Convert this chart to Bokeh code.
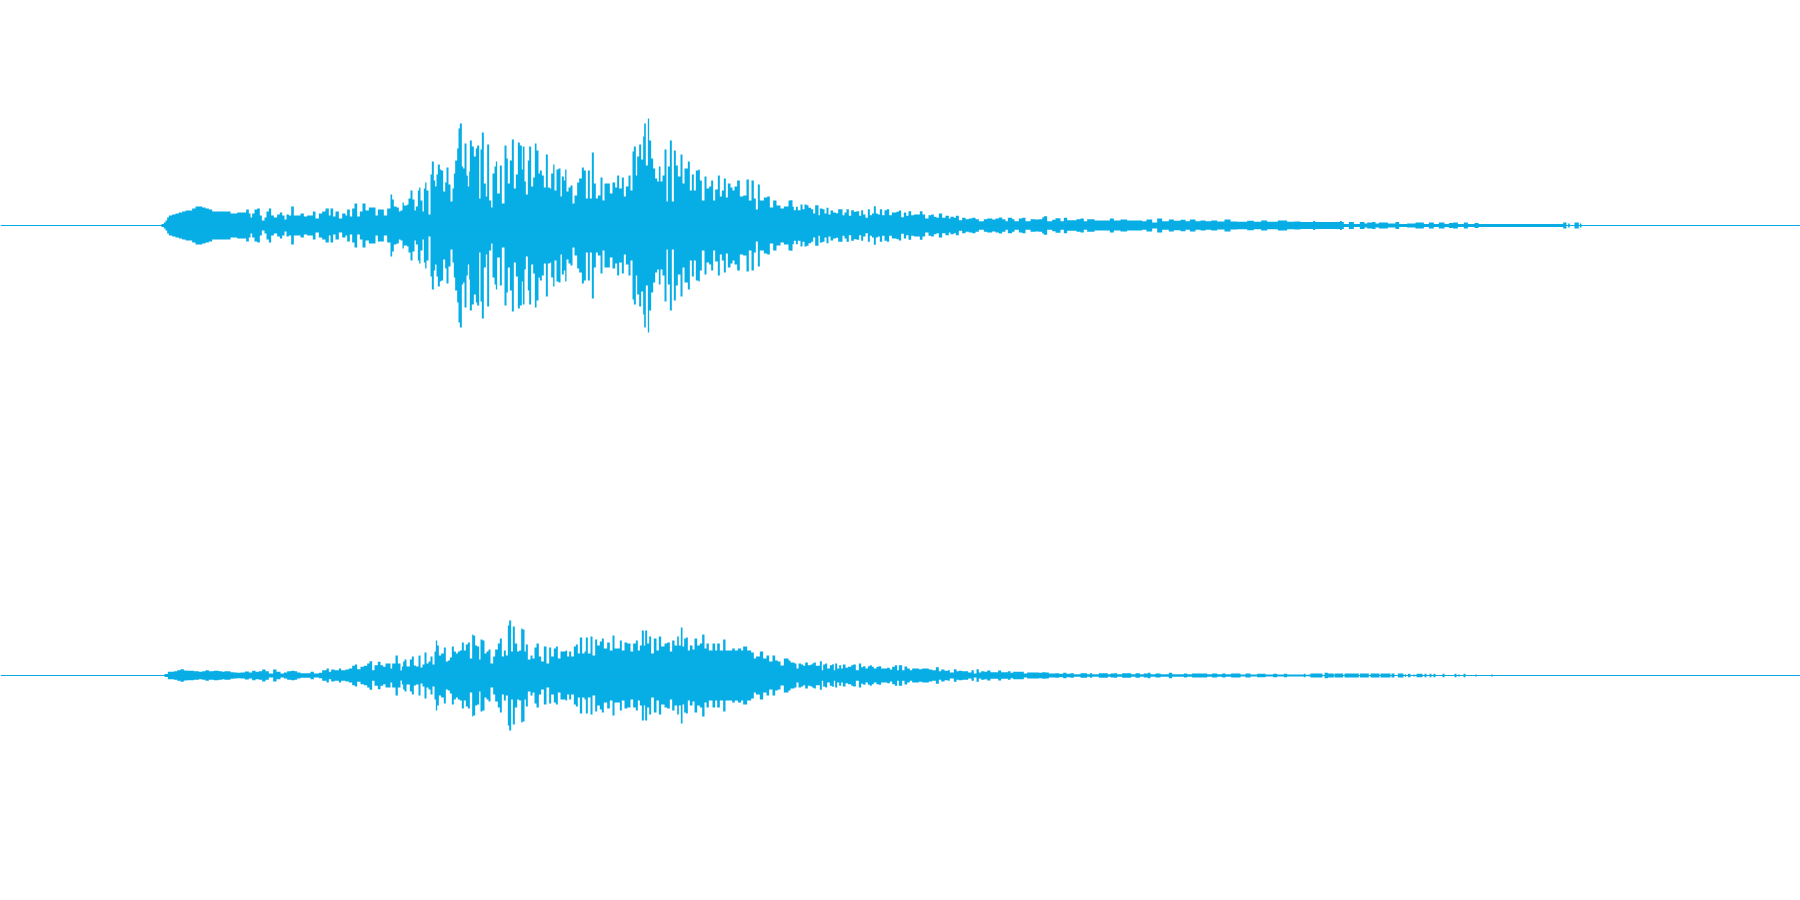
from bokeh.plotting import figure
from bokeh.layouts import column
from bokeh.embed import file_html
from bokeh.resources import INLINE

WAVE = "#07AEE6"
ZERO = "#0AAAE0"

# (tick, amplitude) pairs; a tick is a third of a column, each list has its own start column.
TOP_ONSET_START = 100
TOP_ONSET = [(183,1.5),(190,3),(195,5),(200,8),(205,10),(215,11),(225,12),(235,13),(245,14),(255,15),(265,15),(275,17),(285,19),(295,19),(305,18),(315,17),(325,16),(335,14),(380,14),(390,12),(400,12),(410,13),(420,13),(430,13),(437,16),(445,12),(450,8),(455,12),(462,16),(470,17),(478,10),(484,5),(492,8),(498,14),(505,17),(512,10),(520,8),(530,11),(538,13),(545,10),(552,6),(558,11),(565,10),(572,19),(580,10),(588,10),(600,12),(610,9),(620,10),(630,10),(637,14),(645,7),(655,12),(665,14),(675,17),(685,10),(690,17),(698,9),(705,14),(715,7),(725,12),(735,10),(740,16),(748,9),(755,17),(762,22),(770,9),(778,14),(786,22),(795,15),(805,18),(815,18),(825,10),(832,16),(840,16),(850,10),(860,17),(870,31),(875,26),(880,19),(888,18),(895,14)]
TOP_SPIKES_START = 400
TOP_SPIKES = [(0,15),(6,23),(10,20),(20,21),(24,27),(30,35),(36,26),(42,15),(46,19),(52,35),(56,38),(60,25),(66,14),(70,37),(74,43),(78,35),(84,11),(90,51),(94,64),(100,45),(104,39),(108,51),(112,61),(118,56),(122,55),(128,34),(134,43),(138,58),(144,41),(150,24),(156,37),(160,52),(164,65),(170,77),(174,97),(178,102),(184,59),(188,57),(192,82),(198,50),(202,39),(206,54),(208,85),(214,79),(220,69),(226,77),(230,80),(236,27),(240,76),(244,93),(250,42),(256,29),(260,81),(266,25),(272,18),(276,52),(282,59),(286,64),(290,32),(298,60),(304,22),(312,80),(318,67),(322,42),(328,65),(334,86),(340,37),(346,51),(352,83),(358,80),(364,56),(367,79),(372,44),(376,31),(382,65),(386,79),(392,39),(398,48),(403,82),(408,75),(414,52),(418,55),(424,50),(430,38),(436,71),(442,38),(448,37),(452,52),(458,61),(462,35),(468,56),(474,57),(480,29),(484,49),(490,45),(494,56),(498,34),(504,38),(510,40),(516,22),(522,30),(530,43),(536,47),(544,58),(550,55),(556,27),(562,55),(568,27),(574,73),(580,42),(586,27),(592,30),(600,48),(606,25),(612,42),(620,42),(628,32),(636,43),(644,38),(650,50),(656,37),(664,48),(670,29),(676,39),(684,50),(690,35),(696,74),(700,79),(706,50),(710,69),(716,81),(722,66),(728,89),(731,102),(736,60),(742,107),(746,85),(752,67),(758,57),(764,47),(770,44),(775,59),(780,44),(786,50),(792,76),(798,24),(802,59),(808,85),(814,24),(820,75),(826,60),(832,49),(840,71),(846,42),(852,57),(858,57),(862,64),(868,35),(874,51),(880,35),(886,55),(894,56),(898,45),(904,25),(912,49),(918,37),(926,39),(932,45),(938,25),(944,36),(952,50),(958,29),(964,35),(970,47),(976,28),(982,42),(990,38),(996,35),(1002,39),(1010,45),(1018,29),(1028,30),(1038,46),(1045,25),(1053,45),(1060,27),(1066,16),(1072,41),(1078,25),(1090,28),(1100,29),(1108,18),(1118,25),(1128,20),(1140,17),(1150,19),(1164,25)]
TOP_DECAY_START = 790
TOP_DECAY = [(0,25.3),(6,18.7),(10,15.3),(16,18.7),(22,15.3),(30,21),(36,16.3),(42,21),(48,20.3),(54,17.7),(62,16.3),(68,12),(74,20.3),(80,20.3),(84,10.3),(88,17),(96,16.3),(102,12),(108,17.7),(114,11),(120,15),(128,13),(136,12.3),(143,16.3),(150,16.3),(156,10.3),(162,13),(168,16.3),(175,9.7),(182,15.3),(190,13.7),(198,14.3),(206,9.7),(212,15.3),(218,11),(225,7.7),(232,16.3),(238,10.3),(244,12),(250,19.3),(256,12),(262,11),(268,16.3),(275,10.3),(282,15.3),(289,16.3),(296,10.3),(304,13),(312,13),(318,13.7),(325,15),(332,8.3),(340,13),(347,9.7),(354,14.3),(362,10.3),(370,11),(380,11),(388,14.3),(396,11),(404,7),(414,10.3),(422,11),(430,8.7),(438,7.7),(445,12),(455,7.7),(465,9.7),(475,7),(480,8.7),(490,7.7),(496,9.7),(505,5.3),(515,7.7),(525,6.3),(535,7),(545,7.7),(555,6.3),(565,4.3),(580,6.3),(590,7),(605,6),(615,7),(625,8),(635,6.3),(645,4.3),(652,7.7),(665,6.3),(672,4.3),(685,7),(695,7.7),(705,4.3),(720,6.3),(735,6),(745,6.3),(755,8),(760,9.3),(770,4.3),(785,5.7),(795,7.3),(810,4.3),(820,7.7),(830,5.3),(845,5.3),(858,6.3),(870,7),(880,4.3),(890,6.3),(900,6.3),(912,5),(930,5),(945,5),(958,7),(970,5),(990,6),(1010,5),(1025,5),(1040,5),(1055,4.3),(1068,6),(1085,3),(1100,7),(1115,4.3),(1135,6),(1150,4.7),(1170,5.7),(1185,4.3),(1198,6),(1215,4.3),(1230,5),(1245,4.3),(1262,5),(1280,4),(1302,6),(1320,4),(1340,3.7),(1370,4.7),(1390,3.7),(1412,5),(1430,3.7),(1462,5),(1490,3.7),(1512,4),(1530,3.5)]
TOP_TAIL_START = 1300
TOP_TAIL = [(0,3.5),(38,4.5),(44,3.5),(100,3.5),(118,4.5),(124,3.5),(130,1.5),(145,3.5),(160,1.5),(178,3.5),(192,2),(200,3),(215,3.5),(225,2),(235,3),(250,3),(262,2),(285,3.5),(296,1.5),(320,2),(345,3),(370,1.5),(385,3),(400,1.5),(415,3),(432,1.5),(445,2.5),(458,3),(472,1.5),(490,3),(502,1.5),(522,2.5),(534,1.5),(780,1.5),(788,3),(798,0.4),(803,2),(808,0.4),(822,3),(835,0.4),(838,2),(843,0)]

BOT_ONSET_START = 150
BOT_ONSET = [(42,1.5),(52,3.7),(70,4.3),(80,5.3),(90,6.3),(100,5),(110,4.7),(130,4.3),(145,3.7),(155,4.3),(165,5.3),(175,4.3),(190,4.7),(205,4.3),(215,3.7),(222,4.3),(240,3.3),(250,3),(260,2.7),(270,3),(283,4),(295,3),(305,4.7),(315,3.7),(325,4.3),(335,6),(345,4.3),(355,2),(368,6),(378,3.7),(390,2),(400,3),(410,4.3),(422,4.7),(432,4.3),(440,3),(450,2.3),(470,2.3),(480,3.7),(490,2),(505,2.7),(515,5.3),(528,7),(535,3.7),(542,6),(552,5.3),(565,7),(572,5.3),(585,6),(595,7),(605,9.7),(613,11),(620,6.3),(630,8.7),(640,9.7),(650,12),(657,14.3),(665,5.3),(672,10.3),(682,13.7),(690,10.3),(698,8.7),(705,12),(713,12),(720,7),(725,12),(735,20),(742,12)]
BOT_SPIKES_START = 400
BOT_SPIKES = [(0,5),(4,9),(8,14),(12,16),(18,9),(24,9),(28,16),(34,19),(40,10),(46,9),(54,20),(60,8),(66,11),(72,23),(78,12),(84,14),(90,19),(96,11),(102,24),(106,35),(110,30),(115,20),(122,22),(130,28),(136,14),(142,15),(148,18),(154,29),(160,24),(166,22),(172,24),(178,25),(184,33),(190,25),(196,31),(202,33),(208,17),(215,41),(218,40),(224,30),(230,29),(236,16),(240,36),(246,35),(252,22),(258,24),(264,26),(270,12),(278,19),(284,26),(292,32),(298,37),(304,19),(310,25),(316,20),(322,50),(326,55),(332,24),(337,49),(343,32),(350,24),(356,25),(362,47),(366,46),(372,24),(376,31),(382,16),(390,20),(396,17),(402,28),(408,32),(415,19),(422,14),(430,29),(438,12),(446,28),(452,19),(460,27),(466,29),(472,17),(480,24),(490,24),(495,25),(500,19),(506,24),(512,19),(520,29),(526,31),(532,22),(538,38),(545,22),(552,24),(556,38),(562,22),(570,39),(576,20),(584,36),(590,30),(598,34),(604,37),(610,27),(620,33),(628,25),(636,40),(642,27),(650,27),(658,35),(664,25),(672,33),(680,32),(690,24),(698,32),(706,35),(712,25),(718,30),(724,45),(730,30),(734,45),(740,32),(746,39),(752,22),(760,37),(768,25),(775,39),(782,29),(792,32),(800,33),(808,24),(815,35),(822,30),(830,39),(835,30),(841,48),(846,29),(851,37),(856,38),(862,25),(868,30),(876,26),(882,37),(890,30),(898,32),(905,41),(912,27),(918,32),(925,25),(936,32),(944,25),(950,32),(958,25),(968,36),(975,25),(985,25),(995,27),(1003,25),(1012,27),(1022,25),(1028,29),(1040,25),(1052,23),(1060,17),(1066,19),(1078,24),(1088,17),(1098,20),(1106,14),(1116,20),(1124,15),(1132,14),(1140,10),(1150,17),(1164,15)]
BOT_DECAY_START = 790
BOT_DECAY = [(0,13),(6,13),(12,12),(18,7),(24,12),(32,11),(38,9.7),(44,13),(52,10.3),(60,11),(66,12.3),(70,13),(76,9.7),(88,14.3),(94,5.3),(98,11),(104,12),(110,7),(118,10.3),(125,11.3),(130,5.3),(134,12),(140,7),(146,10.3),(152,7),(157,11),(165,7.7),(172,8.7),(182,10.3),(188,11),(196,5.3),(205,12),(212,8.3),(218,9.3),(225,7),(232,9.3),(238,10.3),(244,8.7),(250,7),(258,8.7),(265,9.3),(272,7),(280,7),(290,7.7),(298,6),(305,8.7),(313,10.3),(320,5.3),(325,10.3),(335,5.3),(342,9),(350,7),(358,5.3),(365,7),(375,7),(385,6.3),(395,7),(405,7),(415,6),(425,5.3),(436,8.3),(445,4.3),(452,6),(462,4.7),(472,5.3),(478,3),(490,6.3),(498,4.3),(505,4.7),(515,4.3),(525,4.3),(533,3),(543,5.3),(550,2),(558,6.3),(565,3),(572,4.3),(582,3.7),(590,5),(600,3.3),(610,3.3),(623,5),(632,3.3),(642,3.3),(652,4.3),(660,2.7),(668,3.7),(680,3.7),(690,3.7),(700,2),(710,3),(725,3),(745,2.7),(755,3.3),(765,3),(775,2),(795,2.3),(805,1.7),(818,2.7),(828,1.7),(840,2.3),(850,1.3),(870,2.3),(890,1.3),(898,2.3),(905,1.3),(925,2.3),(945,2.3),(952,1.3),(960,2),(970,2.3),(980,1.3),(995,2.3),(1015,2.3),(1022,1.3),(1035,2.3),(1048,1.3),(1060,2),(1072,2.7),(1080,1.3),(1095,2),(1110,1.3),(1135,2.7),(1145,1.3),(1165,1.3),(1180,2),(1190,1.3),(1205,2),(1220,2),(1235,2),(1250,1.3),(1265,2),(1280,1.3),(1295,2),(1305,1.3),(1322,2),(1340,2),(1350,1),(1365,2),(1380,1),(1400,1.7),(1415,1.7),(1425,1),(1448,1.7),(1460,1),(1480,1.7),(1490,1),(1520,1),(1535,1),(1540,1.7),(1545,0.7),(1555,1)]
BOT_TAIL_START = 1310
BOT_TAIL = [(0,2),(5,2),(36,0.5),(42,2.7),(52,2),(70,0.5),(72,2),(98,0.5),(102,2),(145,0.5),(148,2),(175,0.5),(180,2),(207,0.5),(210,2),(240,0.5),(243,2),(252,0.5),(262,2),(279,0.5),(283,1.5),(286,0.5),(292,1.7),(300,0.5),(309,1.3),(312,0.5),(318,1.7),(336,0.5),(342,1.7),(348,0.5),(357,1.7),(363,0.5),(369,1.7),(375,0.5),(396,1.7),(402,0.5),(432,1.7),(438,0.5),(444,1.3),(447,0.5),(459,1.7),(465,0.5),(495,1.3),(498,0.5),(543,1.3),(546,0)]


def to_series(sections):
    x, a = [], []
    for start, pairs in sections:
        for tick, amp in pairs:
            x.append(start + tick / 3)
            a.append(amp)
    return x, a


def channel(sections):
    p = figure(width=1800, height=450, x_range=(0, 1800), y_range=(-225, 225),
               output_backend="svg", toolbar_location=None, min_border=0,
               x_axis_type=None, y_axis_type=None, outline_line_color=None,
               background_fill_color="white", border_fill_color="white")
    p.grid.visible = False
    x, a = to_series(sections)
    p.varea_step(x=x, y1=[-v for v in a], y2=a, step_mode="after", fill_color=WAVE)
    p.segment(x0=[0], x1=[1800], y0=[0], y1=[0], line_color=ZERO, line_width=1.2)
    return p


p1 = channel([(TOP_ONSET_START, TOP_ONSET), (TOP_SPIKES_START, TOP_SPIKES),
              (TOP_DECAY_START, TOP_DECAY), (TOP_TAIL_START, TOP_TAIL)])
p2 = channel([(BOT_ONSET_START, BOT_ONSET), (BOT_SPIKES_START, BOT_SPIKES),
              (BOT_DECAY_START, BOT_DECAY), (BOT_TAIL_START, BOT_TAIL)])

page = column(p1, p2, spacing=0, styles={"position": "absolute", "left": "0", "top": "0"})
open("out.html", "w").write(file_html(page, INLINE))
